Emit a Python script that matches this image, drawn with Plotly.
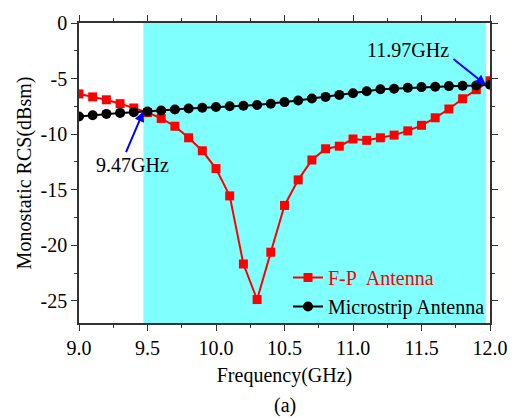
import plotly.graph_objects as go

freq = [9.0, 9.1, 9.2, 9.3, 9.4, 9.5, 9.6, 9.7, 9.8, 9.9, 10.0, 10.1, 10.2, 10.3, 10.4, 10.5,
        10.6, 10.7, 10.8, 10.9, 11.0, 11.1, 11.2, 11.3, 11.4, 11.5, 11.6, 11.7, 11.8, 11.9, 12.0]
fp_rcs = [-6.38, -6.65, -6.91, -7.26, -7.65, -8.06, -8.59, -9.29, -10.33, -11.5, -13.1, -15.56,
          -21.69, -24.89, -20.63, -16.42, -14.12, -12.33, -11.32, -11.09, -10.44, -10.56, -10.33,
          -10.09, -9.71, -9.21, -8.53, -7.74, -6.82, -6.0, -5.2]
ms_rcs = [-8.41, -8.3, -8.18, -8.09, -8.03, -7.97, -7.88, -7.79, -7.7, -7.62, -7.56, -7.5, -7.44,
          -7.38, -7.26, -7.12, -6.97, -6.8, -6.65, -6.47, -6.33, -6.15, -5.97, -5.91, -5.83,
          -5.77, -5.74, -5.68, -5.65, -5.62, -5.56]
band = [9.47, 11.97]
band_labels = ["9.47GHz", "11.97GHz"]
band_rcs = [-7.97, -5.57]
x_ticks = [9.0, 9.5, 10.0, 10.5, 11.0, 11.5, 12.0]
y_ticks = [0, -5, -10, -15, -20, -25]

FONT = "Liberation Serif, Times New Roman, serif"
FS = 20

fig = go.Figure()
fig.add_shape(type="rect", xref="x", yref="paper", x0=band[0], x1=band[1], y0=0, y1=1,
              fillcolor="#80FFFF", line=dict(width=0), layer="below")

fig.add_trace(go.Scatter(x=freq, y=fp_rcs, mode="lines+markers",
                         name="<span style='color:#FF0000'>F-P&nbsp; Antenna</span>",
                         line=dict(color="#FF0000", width=2),
                         marker=dict(symbol="square", size=9, color="#FF0000")))
fig.add_trace(go.Scatter(x=freq, y=ms_rcs, mode="lines+markers",
                         name="Microstrip Antenna",
                         line=dict(color="#000000", width=2),
                         marker=dict(symbol="circle", size=10, color="#000000")))

# arrows
fig.add_annotation(x=band[0], y=band_rcs[0], xref="x", yref="y", text="", showarrow=True,
                   ax=-18, ay=42, arrowcolor="#0000FF", arrowwidth=2, arrowhead=2, arrowsize=1)
fig.add_annotation(x=band[1], y=band_rcs[1], xref="x", yref="y", text="", showarrow=True,
                   ax=-34, ay=-27, arrowcolor="#0000FF", arrowwidth=2, arrowhead=2, arrowsize=1)
fig.add_annotation(x=9.39, y=-12.8, text=band_labels[0], showarrow=False,
                   font=dict(family=FONT, size=FS, color="black"))
fig.add_annotation(x=11.40, y=-2.47, text=band_labels[1], showarrow=False,
                   font=dict(family=FONT, size=FS, color="black"))
fig.add_annotation(x=0.5, y=-0.275, xref="paper", yref="paper", text="(a)", showarrow=False,
                   font=dict(family=FONT, size=FS, color="black"), yanchor="middle")

axis_common = dict(showgrid=False, zeroline=False, showline=True, linecolor="#333333",
                   linewidth=1.5, mirror="ticks", ticks="outside", ticklen=6, tickwidth=1.2,
                   tickcolor="#333333", tickfont=dict(family=FONT, size=FS, color="black"))

fig.update_xaxes(range=[9, 12], tickvals=x_ticks, ticktext=[f"{v:.1f}" for v in x_ticks],
                 minor=dict(dtick=0.25, ticks="outside", ticklen=3, tickcolor="#333333"),
                 title=dict(text="Frequency(GHz)", font=dict(family=FONT, size=FS, color="black"),
                            standoff=10),
                 **axis_common)
fig.update_yaxes(range=[-27, 0], tickvals=y_ticks, ticktext=[str(v) for v in y_ticks],
                 minor=dict(dtick=2.5, ticks="outside", ticklen=3, tickcolor="#333333"),
                 title=dict(text="Monostatic RCS(dBsm)", font=dict(family=FONT, size=FS, color="black"),
                            standoff=4),
                 **axis_common)

fig.update_layout(width=520, height=418, margin=dict(l=79, r=29, t=17, b=95),
                  plot_bgcolor="white", paper_bgcolor="white",
                  font=dict(family=FONT, size=FS, color="black"),
                  legend=dict(x=1.0, y=-0.01, xanchor="right", yanchor="bottom",
                              bgcolor="rgba(0,0,0,0)", font=dict(family=FONT, size=FS),
                              tracegroupgap=0, itemwidth=30),
                  showlegend=True)

fig.write_html("out.html")
